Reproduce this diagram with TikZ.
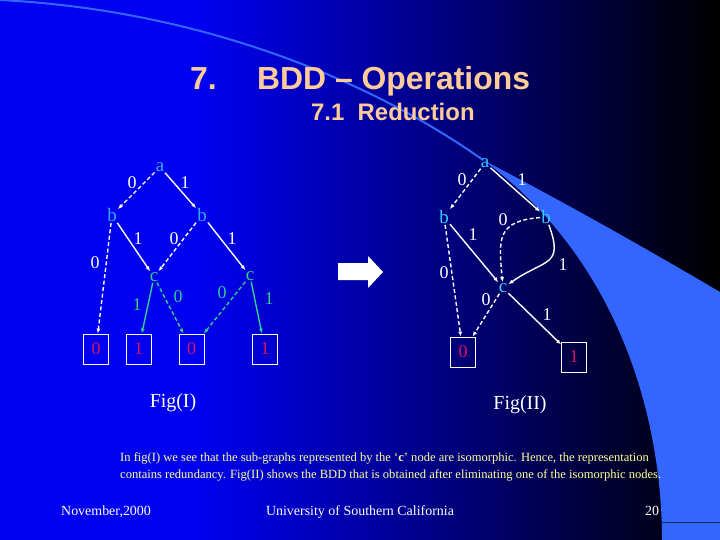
\documentclass[tikz,border=0pt]{standalone}
\usepackage{fontspec}
\setmainfont{Liberation Serif}
\newfontfamily\headfont{Liberation Sans}
\usepackage{tikz}
\usetikzlibrary{arrows.meta}
\definecolor{bgblue}{RGB}{0,0,240}
\definecolor{swoosh}{RGB}{51,102,255}
\definecolor{peach}{RGB}{255,204,153}
\definecolor{varblue}{RGB}{51,170,255}
\definecolor{varcyan}{RGB}{51,204,255}
\definecolor{cgreen}{RGB}{51,204,136}
\definecolor{termred}{RGB}{220,20,90}
\definecolor{notes}{RGB}{255,255,153}
\tikzset{% 
	>={Latex[length=5pt,width=4pt]},
	every edge/.append style={line width=1.4pt},
	lo/.style = {dash pattern=on 4pt off 2.5pt},
	var/.style = {inner sep = 1pt, text = #1, font = \fontsize{19}{19}\selectfont},
	lab/.style = {inner sep = 0pt, text = #1, font = \fontsize{18}{18}\selectfont},
	term/.style = {draw = white, line width = 0.8pt, minimum width = 25bp, minimum height = 30bp, inner sep = 0pt, text = termred, font = \fontsize{18}{18}\selectfont},
	title/.style = {inner sep = 0pt, anchor = base west, text = peach, font = \headfont\bfseries\fontsize{32}{32}\selectfont},
	caption/.style = {inner sep = 0pt, text = white, font = \fontsize{20}{20}\selectfont},
	note/.style = {inner sep = 0pt, anchor = base west, text = notes, font = \fontsize{12.6}{12.6}\selectfont},
	foot/.style = {inner sep = 0pt, anchor = base, text = white, font = \fontsize{14}{14}\selectfont}
}
\begin{document}
\begin{tikzpicture}[x=1bp, y=1bp]
			\useasboundingbox (0,0) rectangle (720,-540);
			\fill [bgblue] (0,0) rectangle (720,-540);
			\shade [left color = bgblue, right color = black] (200,0) rectangle (720,-540);
			\draw [swoosh, line width = 2bp] (0,0) .. controls (200,-10) and (370,-80) .. (483,-160);
			\fill [swoosh] (483,-160) .. controls (560,-200) and (640,-245) .. (720,-292) -- (720,-540) -- (662,-540) .. controls (662,-420) and (620,-260) .. (483,-160);
			\draw [black!60!swoosh, line width = 1bp] (662,-522) -- (720,-522);
			\fill [white] (338,-263) -- (368,-263) -- (368,-256) -- (383,-272) -- (368,-288) -- (368,-280) -- (338,-280) -- cycle;
			\node [title] (num) at (190,-90) {7.};
			\node [title] (head) at (257,-90) {BDD – Operations};
			\node [title, font = \headfont\bfseries\fontsize{24}{24}\selectfont] (sub) at (311,-121) {7.1\ \ Reduction};
			\node [var = varblue] (a) at (160,-167) {a};
			\node [var = varblue] (b0) at (112,-215) {b};
			\node [var = varblue] (b1) at (202,-215) {b};
			\node [var = cgreen] (c0) at (154,-277) {c};
			\node [var = cgreen] (c1) at (250,-276) {c};
			\node [term] (f0) at (96,-349) {0};
			\node [term] (f1) at (138.5,-349) {1};
			\node [term] (f2) at (191.5,-349) {0};
			\node [term] (f3) at (265,-349) {1};
			\path [->, white] (a) edge [lo] (b0);
			\path [->, white] (a) edge (b1);
			\path [->, white] (b0) edge [lo] (f0);
			\path [->, white] (b0) edge (c0);
			\path [->, white] (b1) edge [lo] (c0);
			\path [->, white] (b1) edge (c1);
			\path [->, cgreen] (c0) edge (f1);
			\path [->, cgreen] (c0) edge [lo] (f2);
			\path [->, cgreen] (c1) edge [lo] (f2);
			\path [->, cgreen] (c1) edge (f3);
			\node [lab = white] (la1) at (132,-183) {0};
			\node [lab = white] (la2) at (185,-183) {1};
			\node [lab = white] (la3) at (138,-239) {1};
			\node [lab = white] (la4) at (174,-239) {0};
			\node [lab = white] (la5) at (95,-263) {0};
			\node [lab = white] (la6) at (232,-239) {1};
			\node [lab = cgreen] (la7) at (137,-305) {1};
			\node [lab = cgreen] (la8) at (178,-297) {0};
			\node [lab = cgreen] (la9) at (222,-293) {0};
			\node [lab = cgreen] (la10) at (269,-299) {1};
			\node [var = varcyan] (ra) at (485,-163) {a};
			\node [var = varcyan] (rb0) at (444,-217) {b};
			\node [var = varcyan] (rb1) at (546,-217) {b};
			\node [var = varcyan] (rc) at (503,-288) {c};
			\node [term] (r0) at (463,-352) {0};
			\node [term] (r1) at (574,-357) {1};
			\path [->, white] (ra) edge [lo] (rb0);
			\path [->, white] (ra) edge (rb1);
			\path [->, white] (rb0) edge (rc);
			\path [->, white] (rb0) edge [lo] (r0);
			\path [->, white] (rb1) edge [lo, out = 185, in = 95, looseness = 1.5] (rc);
			\path [->, white] (rb1) edge [out = -70, in = 35, looseness = 1.6] (rc);
			\path [->, white] (rc) edge [lo] (r0);
			\path [->, white] (rc) edge (r1);
			\node [lab = white] (lb1) at (462,-180) {0};
			\node [lab = white] (lb2) at (522,-180) {1};
			\node [lab = white] (lb3) at (473,-235) {1};
			\node [lab = white] (lb4) at (444,-273) {0};
			\node [lab = white] (lb5) at (503,-220) {0};
			\node [lab = white] (lb6) at (563,-265) {1};
			\node [lab = white] (lb7) at (486,-300) {0};
			\node [lab = white] (lb8) at (547,-315) {1};
			\node [caption, anchor = base] (fig1) at (173,-407) {Fig(I)};
			\node [caption, anchor = base] (fig2) at (520,-409) {Fig(II)};
			\node [note] (n1) at (120,-461) {In fig(I) we see that the sub-graphs represented by the ‘\textbf{c}’ node are isomorphic. Hence, the representation};
			\node [note] (n2) at (120,-478) {contains redundancy. Fig(II) shows the BDD that is obtained after eliminating one of the isomorphic nodes.};
			\node [foot, anchor = base west] (date) at (61,-515) {November,2000};
			\node [foot] (uni) at (360,-515) {University of Southern California};
			\node [foot, anchor = base west] (page) at (645,-515) {20};
			\end{tikzpicture}
\end{document}
